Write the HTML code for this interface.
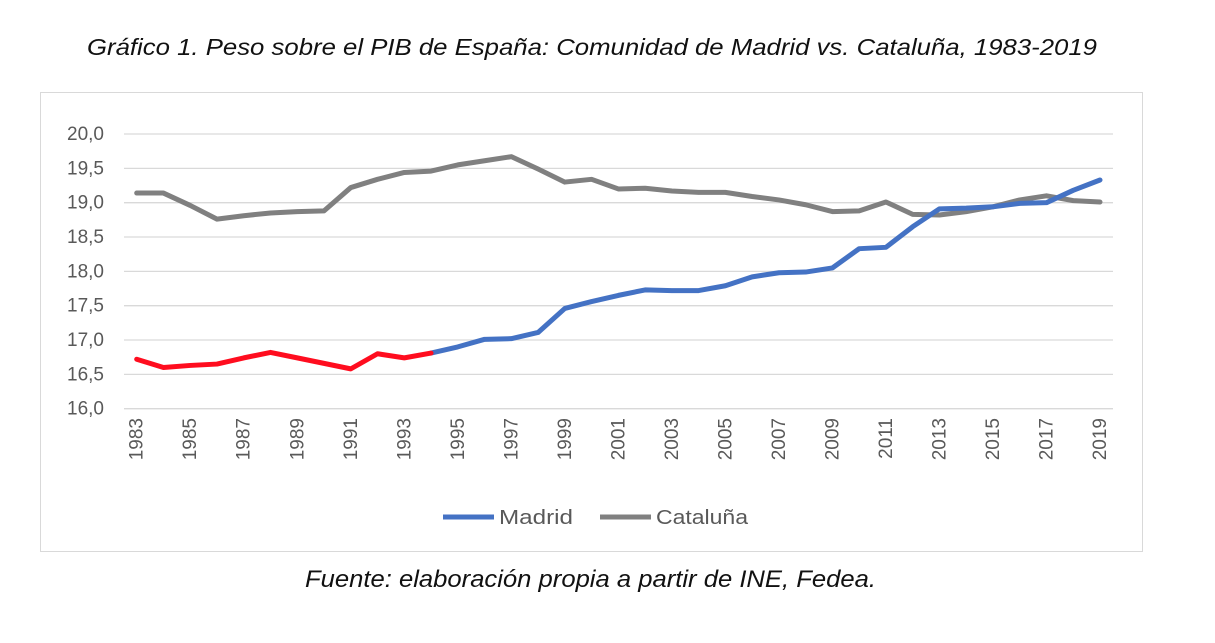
<!DOCTYPE html>
<html><head><meta charset="utf-8"><style>
body{margin:0;background:#fff;width:1215px;height:638px;overflow:hidden;font-family:"Liberation Sans",sans-serif}
</style></head><body>
<svg width="1215" height="638">
<text x="87" y="55" textLength="1010" lengthAdjust="spacingAndGlyphs" font-style="italic" font-size="23" fill="#111">Gráfico 1. Peso sobre el PIB de España: Comunidad de Madrid vs. Cataluña, 1983-2019</text>
<rect x="40.5" y="92.5" width="1102" height="459" fill="none" stroke="#d9d9d9"/>
<g id="grid"></g><g id="ylab"></g><g id="xlab"></g><g id="lines"></g>
<g>
<line x1="443" y1="517" x2="494" y2="517" stroke="#4472c4" stroke-width="5"/>
<text x="499" y="524" textLength="74" lengthAdjust="spacingAndGlyphs" font-size="20" fill="#595959">Madrid</text>
<line x1="600" y1="517" x2="651" y2="517" stroke="#808080" stroke-width="5"/>
<text x="656" y="524" textLength="92" lengthAdjust="spacingAndGlyphs" font-size="20" fill="#595959">Cataluña</text>
</g>
<text x="305" y="587" textLength="571" lengthAdjust="spacingAndGlyphs" font-style="italic" font-size="24" fill="#111">Fuente: elaboración propia a partir de INE, Fedea.</text>
</svg>
<script>
const years=[];for(let y=1983;y<=2019;y++)years.push(y);
const madrid=[16.72,16.60,16.63,16.65,16.74,16.82,16.74,16.66,16.58,16.80,16.74,16.81,16.90,17.01,17.02,17.11,17.46,17.56,17.65,17.73,17.72,17.72,17.79,17.92,17.98,17.99,18.05,18.33,18.35,18.65,18.91,18.92,18.94,18.99,19.00,19.18,19.33];
const cataluna=[19.14,19.14,18.96,18.76,18.81,18.85,18.87,18.88,19.22,19.34,19.44,19.46,19.55,19.61,19.67,19.49,19.30,19.34,19.20,19.21,19.17,19.15,19.15,19.09,19.04,18.97,18.87,18.88,19.01,18.83,18.82,18.87,18.94,19.04,19.10,19.03,19.01];
const yTicks=[16,16.5,17,17.5,18,18.5,19,19.5,20];
const redUntil=1994;
const NS="http://www.w3.org/2000/svg";
const X0=136.7,XS=(1100-136.7)/36;
const xS=y=>X0+(y-1983)*XS;
const yS=v=>408.7-(v-16)*(408.7-134)/4;
function mk(t,a,p){const e=document.createElementNS(NS,t);for(const k in a)e.setAttribute(k,a[k]);p.appendChild(e);return e;}
const grid=document.getElementById('grid'),yl=document.getElementById('ylab'),xl=document.getElementById('xlab'),ln=document.getElementById('lines');
yTicks.forEach(v=>{
 const l=mk('line',{x1:124,x2:1113,y1:yS(v),y2:yS(v),stroke:'#d9d9d9','stroke-width':1.3},grid);
 
 
 const t=mk('text',{x:104,y:yS(v)+6,'text-anchor':'end','font-size':19,fill:'#595959'},yl);
 t.textContent=v.toFixed(1).replace('.',',');
 
 
});
years.forEach(y=>{if((y-1983)%2)return;
 const t=mk('text',{transform:`translate(${xS(y)+6},${418}) rotate(-90)`,'text-anchor':'end','font-size':19,fill:'#595959'},xl);
 t.textContent=y;
 
 
});
function path(arr,i0,i1,col,name){let d='';for(let i=i0;i<=i1;i++)d+=(i==i0?'M':'L')+xS(years[i])+','+yS(arr[i]);
 const p=mk('path',{d,fill:'none',stroke:col,'stroke-width':5,'stroke-linejoin':'round','stroke-linecap':'round'},ln);
 
 }
const ri=years.indexOf(redUntil);
path(cataluna,0,years.length-1,'#808080','cataluna-line');
path(madrid,ri,years.length-1,'#4472c4','madrid-line');
path(madrid,0,ri,'#ff0d1f','madrid-line-highlight');
</script>
</body></html>
